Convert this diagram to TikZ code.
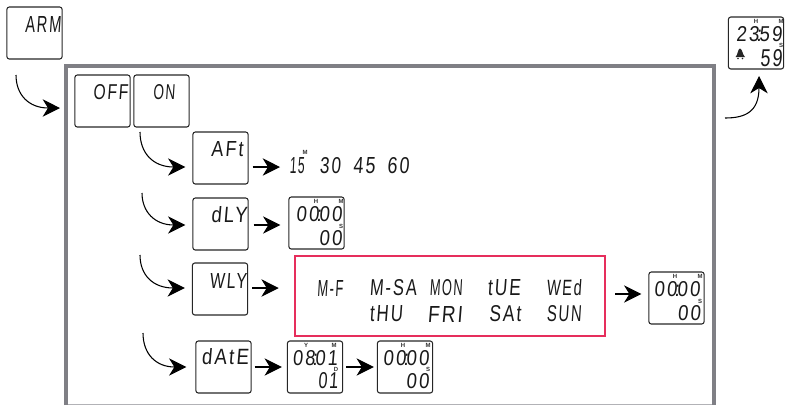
\documentclass[tikz,border=0pt]{standalone}
\usepackage{fontspec}
\usepackage{graphicx}
\usetikzlibrary{arrows.meta,calc}
\newfontfamily\lcdfont[FakeSlant=0.1,LetterSpace=12]{Liberation Sans}
\setmainfont{Liberation Sans}
\definecolor{framegray}{HTML}{7F7F85}
\definecolor{redbox}{HTML}{E62E5C}
\newcommand{\clk}{\makebox[0pt]{:}}
\newdimen\pxu \pxu=0.75pt
\newcommand{\Tx}[3]{\resizebox{#1\pxu}{#2\pxu}{#3}}
\tikzset{
  x=0.75pt,y=-0.75pt,
  lcdbox/.style={draw=black!85,line width=0.8pt,rounded corners=1.8pt,minimum width=41.4pt,minimum height=39pt,inner sep=0pt},
  lcd/.style={font=\lcdfont\fontsize{15.5}{15.5}\selectfont,text=black!90,inner sep=0pt,anchor=center},
  tiny/.style={font=\bfseries\fontsize{4.5}{5}\selectfont,text=black!80,inner sep=0pt},
  arr/.style={-{Stealth[length=13pt,width=13pt,inset=4pt]},line width=0.8pt,black},
}
\begin{document}
\begin{tikzpicture}
\useasboundingbox (0,0) rectangle (785,405);
% frame
\draw[framegray!60,line width=0.8pt] (65.5,404.5) -- (713.5,404.5);
\draw[framegray,line width=3pt] (65.5,405) -- (65.5,65.5) -- (713.5,65.5) -- (713.5,405);
% boxes
\node[lcdbox] (arm) at (34.5,33) {};
\node[lcdbox] (off) at (102.5,101) {};
\node[lcdbox] (on) at (161.5,101) {};
\node[lcdbox] (aft) at (220.5,158) {};
\node[lcdbox] (dly) at (220.5,224) {};
\node[lcdbox] (dlyd) at (316.5,223) {};
\node[lcdbox] (wly) at (220,289) {};
\node[lcdbox] (date) at (223.5,367) {};
\node[lcdbox] (dated) at (315,367) {};
\node[lcdbox] (timed) at (405,367) {};
\node[lcdbox] (wlyd) at (676.5,298) {};
\node[lcdbox] (endd) at (756,43) {};
\node[draw=redbox,line width=1.9pt,minimum width=232.5pt,minimum height=60pt,inner sep=0pt] (days) at (450,296) {};
% labels
\node[lcd] (tarm) at (43,24) {\Tx{36}{16}{ARM}};
\node[lcd] (toff) at (110.5,92.5) {\Tx{35}{15}{OFF}};
\node[lcd] (ton) at (164,92.5) {\Tx{22}{15}{ON}};
\node[lcd] (taft) at (227,149.5) {\Tx{32}{15}{AFt}};
\node[lcd] (v15) at (297,166) {\Tx{15}{16}{15}};
\node[lcd] (v30) at (330,166) {\Tx{21}{16}{30}};
\node[lcd] (v45) at (364,166) {\Tx{22}{16}{45}};
\node[lcd] (v60) at (398,166) {\Tx{22}{16}{60}};
\node[tiny] (m15) at (305,152) {M};
\node[lcd] (tdly) at (229,215) {\Tx{36}{16}{dLY}};
\node[lcd] (d1) at (319,214.5) {\Tx{46}{15}{00\clk00}};
\node[lcd] (d2) at (330.5,238.5) {\Tx{23}{15}{00}};
\node[tiny] (d3) at (316,201) {H};
\node[tiny] (d4) at (341,201) {M};
\node[tiny] (d5) at (341,226) {S};
\node[lcd] (twly) at (228,281) {\Tx{37}{15}{WLY}};
\node[lcd] (w1) at (330,288) {\Tx{26}{16}{M-F}};
\node[lcd] (w2) at (393,288) {\Tx{47}{16}{M-SA}};
\node[lcd] (w3) at (446,288) {\Tx{33}{16}{MON}};
\node[lcd] (w4) at (504,288) {\Tx{33}{16}{tUE}};
\node[lcd] (w5) at (564,288) {\Tx{35}{16}{WEd}};
\node[lcd] (w6) at (386,314) {\Tx{33}{16}{tHU}};
\node[lcd] (w7) at (445,314) {\Tx{35}{16}{FRI}};
\node[lcd] (w8) at (505,314) {\Tx{32}{16}{SAt}};
\node[lcd] (w9) at (564,314) {\Tx{35}{16}{SUN}};
\node[lcd] (e1) at (677,289) {\Tx{46}{15}{00\clk00}};
\node[lcd] (e2) at (689,313) {\Tx{23}{15}{00}};
\node[tiny] (e3) at (675,276) {H};
\node[tiny] (e4) at (700,276) {M};
\node[tiny] (e5) at (700,301) {S};
\node[lcd] (tdate) at (225,357) {\Tx{47}{16}{dAtE}};
\node[lcd] (f1) at (315,358) {\Tx{45}{15}{08\clk01}};
\node[lcd] (f2) at (328,381) {\Tx{20}{16}{01}};
\node[tiny] (f3) at (306,345) {Y};
\node[tiny] (f4) at (334,345) {M};
\node[tiny] (f5) at (336,369) {D};
\node[lcd] (g1) at (406,358) {\Tx{46}{15}{00\clk00}};
\node[lcd] (g2) at (417.5,381) {\Tx{23}{15}{00}};
\node[tiny] (g3) at (403,345) {H};
\node[tiny] (g4) at (428,345) {M};
\node[tiny] (g5) at (428,369) {S};
\node[lcd] (h1) at (759,34) {\Tx{46}{15}{23\clk59}};
\node[lcd] (h2) at (771,58) {\Tx{22}{17}{59}};
\node[tiny] (h3) at (756,21) {H};
\node[tiny] (h4) at (781,21) {M};
\node[tiny] (h5) at (781,45) {S};
% bell
\fill[black!85] (735.5,57) .. controls (738,55) and (737.5,49) .. (740,48.5) .. controls (742.5,49) and (742.5,55) .. (745,57) -- cycle;
\fill[black!85] (738,58.5) circle (0.9) (742.5,58.5) circle (0.9);
% free ends
\coordinate (c0s) at (16,75); \coordinate (c0e) at (60,108);
\coordinate (c1s) at (140,132); \coordinate (c2s) at (142,193);
\coordinate (c3s) at (140,255); \coordinate (c4s) at (143,333);
\coordinate (c5s) at (725,118); \coordinate (c5e) at (759,76);
% curved arrows
\draw[arr] (c0s) .. controls (16,95) and (29,108) .. (c0e);
\draw[arr] (c1s) .. controls (140,153) and (153,167) .. ([shift={(-7,9)}]aft.west);
\draw[arr] (c2s) .. controls (142,212) and (155,225) .. ([shift={(-7,1)}]dly.west);
\draw[arr] (c3s) .. controls (140,275) and (153,288) .. ([shift={(-7,-1)}]wly.west);
\draw[arr] (c4s) .. controls (143,354) and (156,367) .. ([shift={(-9,0)}]date.west);
\draw[arr] (c5s) .. controls (745,118) and (759,112) .. (c5e);
% straight arrows
\draw[arr] ([shift={(4,9)}]aft.east) -- ([shift={(-17,1)}]v15.center);
\draw[arr] ([shift={(5,1)}]dly.east) -- ([shift={(-8,2)}]dlyd.west);
\draw[arr] ([shift={(4,-1)}]wly.east) -- ([shift={(-15,-8)}]days.west);
\draw[arr] ([shift={(9,-2)}]days.east) -- ([shift={(-7,-4)}]wlyd.west);
\draw[arr] ([xshift=2.25pt]date.east) -- ([xshift=-3.75pt]dated.west);
\draw[arr] ([xshift=2.25pt]dated.east) -- ([xshift=-2.25pt]timed.west);
\end{tikzpicture}
\end{document}
